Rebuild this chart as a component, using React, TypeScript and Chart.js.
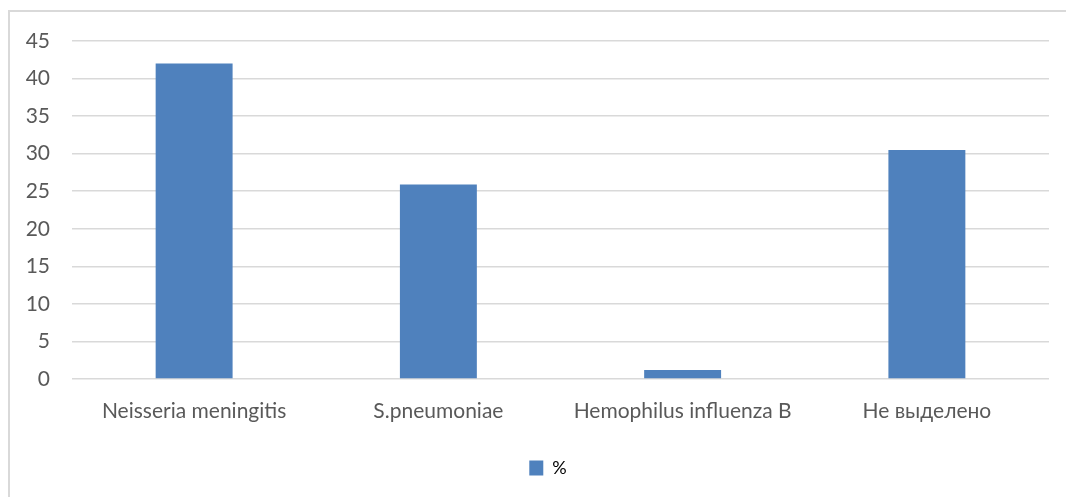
import React, { useEffect, useRef } from "react";
import { Chart, registerables } from "chart.js";

Chart.register(...registerables);

const categories = ["Neisseria meningitis", "S.pneumoniae", "Hemophilus influenza B", "Не выделено"];
const seriesLabel = "%";
const seriesValues = [42, 25.9, 1.2, 30.5];
const yMin = 0;
const yMax = 45;
const yStep = 5;

const TEXT = "#595959";
const GRID = "#d9d9d9";
const BAR = "#4F81BD";
const FONT = "Lato";
const FONT_SIZE = 21;

const borderPlugin = {
  id: "frameBorder",
  beforeDraw(chart: any) {
    const ctx = chart.ctx;
    ctx.save();
    ctx.fillStyle = "#ffffff";
    ctx.fillRect(0, 0, chart.width, chart.height);
    ctx.strokeStyle = GRID;
    ctx.lineWidth = 2;
    ctx.beginPath();
    ctx.moveTo(9, chart.height);
    ctx.lineTo(9, 11);
    ctx.lineTo(chart.width, 11);
    ctx.stroke();
    ctx.restore();
  },
  afterLayout(chart: any) {
    if (chart.legend) {
      chart.legend.left = chart.legend.left + 47;
    }
  },
};

export default function App() {
  const ref = useRef<HTMLCanvasElement>(null);
  useEffect(() => {
    document.body.style.margin = "0";
    document.body.style.overflow = "hidden";
    const chart = new Chart(ref.current!, {
      type: "bar",
      data: {
        labels: categories,
        datasets: [
          {
            label: seriesLabel,
            data: seriesValues,
            backgroundColor: BAR,
            borderWidth: 0,
            categoryPercentage: 1,
            barPercentage: 0.315,
          },
        ],
      },
      options: {
        animation: false,
        responsive: false,
        maintainAspectRatio: false,
        layout: { padding: { top: 41, right: 17, left: 0, bottom: 10 } },
        plugins: {
          tooltip: { enabled: false },
          legend: {
            display: true,
            position: "bottom",
            labels: {
              color: TEXT,
              font: { family: FONT, size: 18 },
              boxWidth: 14,
              boxHeight: 15,
              padding: 10,
              generateLabels: () => [
                {
                  text: seriesLabel,
                  fillStyle: BAR,
                  strokeStyle: BAR,
                  lineWidth: 0,
                  datasetIndex: 0,
                },
              ],
            },
          },
        },
        scales: {
          x: {
            grid: { display: false, drawTicks: false },
            border: { display: false },
            ticks: {
              color: TEXT,
              font: { family: FONT, size: FONT_SIZE },
              padding: 20,
              maxRotation: 0,
              autoSkip: false,
            },
            afterFit: (s: any) => {
              s.height = 70;
            },
          },
          y: {
            min: yMin,
            max: yMax,
            grid: { color: GRID, lineWidth: 1.5, drawTicks: false },
            border: { display: false },
            ticks: {
              stepSize: yStep,
              color: TEXT,
              font: { family: FONT, size: FONT_SIZE },
              padding: 22,
            },
            afterFit: (s: any) => {
              s.width = 72;
            },
          },
        },
      },
      plugins: [borderPlugin],
    } as any);
    return () => chart.destroy();
  }, []);
  return (
    <div style={{ position: "fixed", left: 0, top: 0, width: 1066, height: 497 }}>
      <canvas ref={ref} width={1066} height={497} style={{ display: "block" }} />
    </div>
  );
}
